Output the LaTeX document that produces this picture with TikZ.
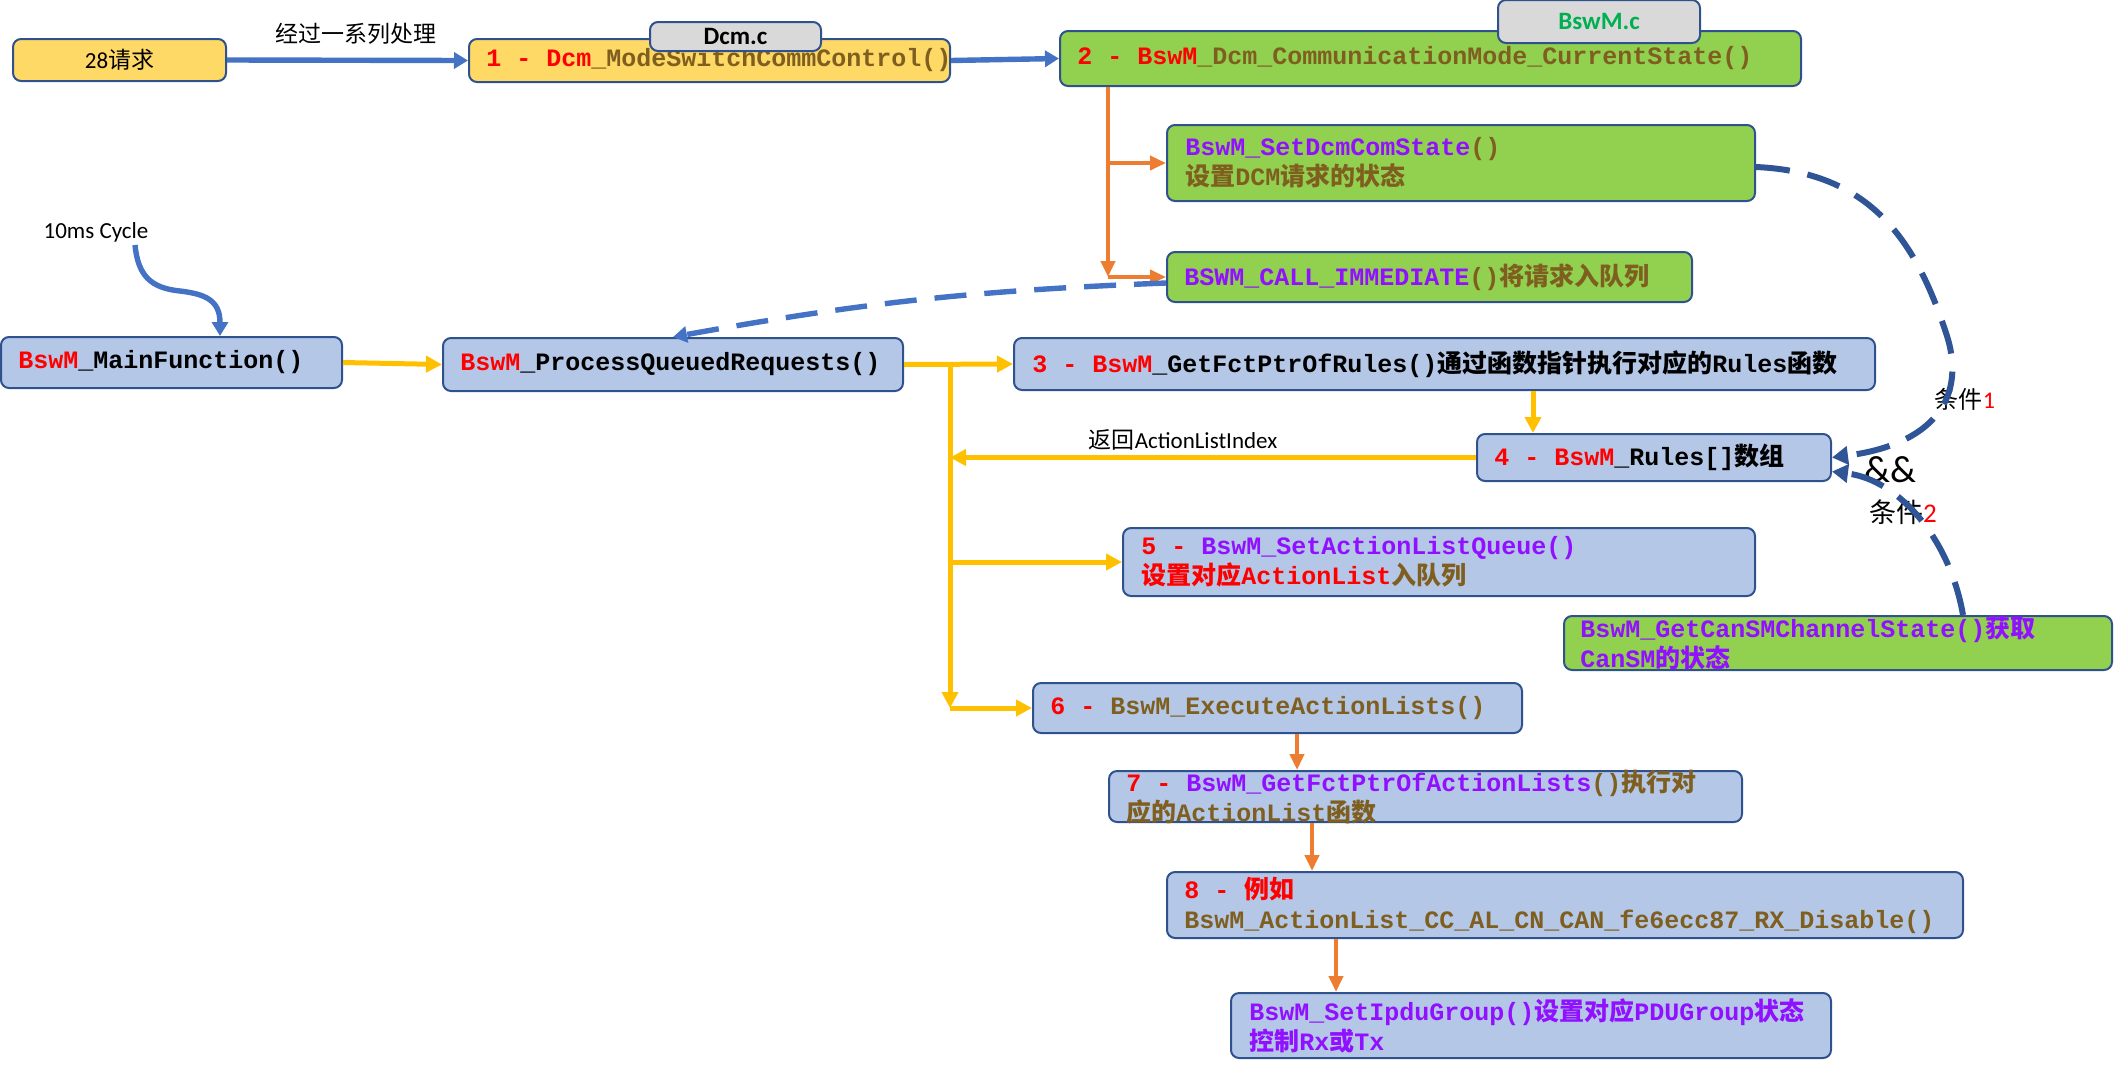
\documentclass[tikz,border=0pt]{standalone}
\usepackage{fontspec}
\setmainfont{Carlito}
\setmonofont{Liberation Mono}
\newfontfamily\cjk{Noto Sans CJK SC}
\usetikzlibrary{arrows.meta,calc}
\definecolor{cyel}{HTML}{FFD966}
\definecolor{cgrn}{HTML}{92D050}
\definecolor{cblu}{HTML}{B4C7E7}
\definecolor{ctab}{HTML}{D9D9D9}
\definecolor{cbord}{HTML}{2F528F}
\definecolor{tred}{HTML}{FF0000}
\definecolor{tpur}{HTML}{9010FF}
\definecolor{tbrn}{HTML}{7F5F20}
\definecolor{tgrn}{HTML}{00B050}
\definecolor{ablue}{HTML}{4472C4}
\definecolor{adark}{HTML}{2F5597}
\definecolor{aorg}{HTML}{ED7D31}
\definecolor{agold}{HTML}{FFC000}
\newcommand\zhb[1]{{\cjk\bfseries #1}}
\newcommand\zhr[1]{{\cjk #1}}
\newcommand\cR[1]{\textcolor{tred}{#1}}
\newcommand\cP[1]{\textcolor{tpur}{#1}}
\newcommand\cK[1]{\textcolor{black}{#1}}
\begin{document}
\begin{tikzpicture}[x=0.5pt,y=-0.5pt,
  box/.style={draw=cbord,line width=1pt,rounded corners=4pt,inner sep=0pt},
  code/.style={anchor=west,inner sep=0pt,align=left,text=tbrn,font=\ttfamily\bfseries\fontsize{12.5}{15}\selectfont},
  lab/.style={inner sep=0pt,font=\fontsize{11.5}{14}\selectfont},
  tabfont/.style={font=\bfseries\fontsize{12.5}{14}\selectfont},
  barrow/.style={draw=ablue,line width=2.7pt,-{Triangle[length=7pt,width=8pt]}},
  yarrow/.style={draw=agold,line width=2.5pt,-{Triangle[length=8pt,width=8pt]}},
  oarrow/.style={draw=aorg,line width=2.2pt,-{Triangle[length=8pt,width=7pt]}},
  bdash/.style={draw=ablue,line width=2.7pt,dash pattern=on 16pt off 9pt,-{Triangle[length=7pt,width=8pt]}},
  ddash/.style={draw=adark,line width=3pt,dash pattern=on 17pt off 9pt,-{Triangle[length=8pt,width=9pt]}},
]
\useasboundingbox (0,0) rectangle (2114,1072);

% ---------- boxes ----------
\node[box,fill=cyel,minimum width=106.5pt,minimum height=21pt,lab] (req) at (119.5,60) {28\zhr{请求}};

\node[box,fill=cyel,minimum width=240.5pt,minimum height=21.5pt] (b1) at (709.5,60.5) {};
\node[code] (b1t) at ($(b1.west)+(18,0)$) {\cR{1 - Dcm}\_ModeSwitchCommControl()};
\node[box,fill=ctab,minimum width=85.5pt,minimum height=14.5pt,tabfont] (tdcm) at (735.5,36.5) {Dcm.c};

\node[box,fill=cgrn,minimum width=370.5pt,minimum height=27.5pt] (b2) at (1430.5,58.5) {};
\node[code] (b2t) at ($(b2.west)+(18,0)$) {\cR{2 - BswM}\_Dcm\_CommunicationMode\_CurrentState()};
\node[box,fill=ctab,minimum width=101pt,minimum height=21.5pt,tabfont,text=tgrn] (tbsw) at (1599,21.5) {BswM.c};

\node[box,fill=cgrn,minimum width=294pt,minimum height=38pt] (sdcm) at (1461,163) {};
\node[code] (sdcmt) at ($(sdcm.west)+(19,0)$) {\cP{BswM\_SetDcmComState}()\\\zhb{设置}DCM\zhb{请求的状态}};

\node[box,fill=cgrn,minimum width=262.5pt,minimum height=25pt] (call) at (1429.5,277) {};
\node[code] (callt) at ($(call.west)+(18,0)$) {\cP{BSWM\_CALL\_IMMEDIATE}()\zhb{将请求入队列}};

\node[box,fill=cblu,minimum width=170.5pt,minimum height=25.5pt] (mainfn) at (171.5,362.5) {};
\node[code] (mainfnt) at ($(mainfn.west)+(18,0)$) {\cR{BswM}\cK{\_MainFunction()}};

\node[box,fill=cblu,minimum width=230pt,minimum height=26.5pt] (pqr) at (673,364.5) {};
\node[code] (pqrt) at ($(pqr.west)+(18,0)$) {\cR{BswM}\cK{\_ProcessQueuedRequests()}};

\node[box,fill=cblu,minimum width=430.5pt,minimum height=26pt] (b3) at (1444.5,364) {};
\node[code] (b3t) at ($(b3.west)+(19,0)$) {\cR{3 - BswM}\cK{\_GetFctPtrOfRules()\zhb{通过函数指针执行对应的}Rules\zhb{函数}}};

\node[box,fill=cblu,minimum width=177pt,minimum height=23.5pt] (b4) at (1654,457.5) {};
\node[code] (b4t) at ($(b4.west)+(18,0)$) {\cR{4 - BswM}\cK{\_Rules[]\zhb{数组}}};

\node[box,fill=cblu,minimum width=316pt,minimum height=34pt] (b5) at (1439,562) {};
\node[code] (b5t) at ($(b5.west)+(19,0)$) {\cR{5 - }\cP{BswM\_SetActionListQueue()}\\\cR{\zhb{设置对应}ActionList}\zhb{入队列}};

\node[box,fill=cgrn,minimum width=274pt,minimum height=27pt] (cansm) at (1838,643) {};
\node[code,text=tpur] (cansmt) at ($(cansm.west)+(17,0)$) {BswM\_GetCanSMChannelState()\zhb{获取}\\CanSM\zhb{的状态}};

\node[box,fill=cblu,minimum width=244.5pt,minimum height=25pt] (b6) at (1277.5,708) {};
\node[code] (b6t) at ($(b6.west)+(18,0)$) {\cR{6 - }BswM\_ExecuteActionLists()};

\node[box,fill=cblu,minimum width=316.5pt,minimum height=25.5pt] (b7) at (1425.5,796.5) {};
\node[code] (b7t) at ($(b7.west)+(18,1)$) {\cR{7 - }\cP{BswM\_GetFctPtrOfActionLists}()\zhb{执行对}\\\zhb{应的}ActionList\zhb{函数}};

\node[box,fill=cblu,minimum width=398pt,minimum height=33pt] (b8) at (1565,905) {};
\node[code] (b8t) at ($(b8.west)+(18,0)$) {\cR{8 - \zhb{例如}}\\BswM\_ActionList\_CC\_AL\_CN\_CAN\_fe6ecc87\_RX\_Disable()};

\node[box,fill=cblu,minimum width=300pt,minimum height=32.5pt] (ipdu) at (1531,1025.5) {};
\node[code,text=tpur] (ipdut) at ($(ipdu.west)+(19,0)$) {BswM\_SetIpduGroup()\zhb{设置对应}PDUGroup\zhb{状态}\\\zhb{控制}Rx\zhb{或}Tx};

% ---------- labels ----------
\node[lab] (proc) at (356,34) {\zhr{经过一系列处理}};
\node[lab] (cyc) at (96,232) {10ms Cycle};
\node[lab] (ret) at (1183,440) {\zhr{返回}ActionListIndex};
\node[inner sep=0pt,font=\fontsize{12}{14}\selectfont] (cond1) at (1965,399) {\zhr{条件}\textcolor{tred}{1}};
\node[inner sep=0pt,font=\fontsize{19}{22}\selectfont] (andand) at (1890,470) {\&\&};
\node[inner sep=0pt,font=\fontsize{13.5}{16}\selectfont] (cond2) at (1903,512) {\zhr{条件}\textcolor{tred}{2}};

% ---------- helper coordinates ----------
\coordinate (cycS) at (135,245);
\coordinate (mx) at (220,0);
\coordinate (ox) at (1108,0);
\coordinate (yx) at (950,0);
\coordinate (x34) at (1533,0);
\coordinate (x67) at (1297,0);
\coordinate (x78) at (1312,0);
\coordinate (x89) at (1336,0);
\coordinate (c2x) at (1963,0);

% ---------- connectors ----------
\draw[barrow] (req.east) -- (b1.west);
\draw[barrow] (b1.east) -- (b2.west);

\draw[oarrow] (b2.south -| ox) -- (call.west -| ox);
\draw[oarrow] (sdcm.west -| ox) -- (sdcm.west);
\draw[oarrow] (call.west -| ox) -- (call.west);

\draw[bdash] ($(call.west)+(0,6)$) to[bend right=4] (pqr.north);

\draw[barrow] (cycS) .. controls (138,275) and (150,288) .. (180,291) .. controls (205,294) and (220,300) .. (mainfn.north -| mx);

\draw[yarrow] (mainfn.east) -- (pqr.west);
\draw[yarrow] (pqr.east) -- (b3.west);
\draw[yarrow] (pqr.east -| yx) -- (b6.west -| yx);
\draw[yarrow] (b6.west -| yx) -- (b6.west);
\draw[yarrow] (b5.west -| yx) -- (b5.west);
\draw[yarrow] (b4.west) -- (b4.west -| yx);
\draw[yarrow] (b3.south -| x34) -- (b4.north -| x34);

\draw[oarrow] (b6.south -| x67) -- (b7.north -| x67);
\draw[oarrow] (b7.south -| x78) -- (b8.north -| x78);
\draw[oarrow] (b8.south -| x89) -- (ipdu.north -| x89);

\draw[ddash] ($(sdcm.east)+(0,4)$) .. controls (1870,172) and (1915,240) .. (1945,330) .. controls (1970,400) and (1930,445) .. (b4.east);
\draw[ddash] (cansm.north -| c2x) .. controls (1950,540) and (1900,480) .. ($(b4.east)+(0,14)$);
\end{tikzpicture}
\end{document}
